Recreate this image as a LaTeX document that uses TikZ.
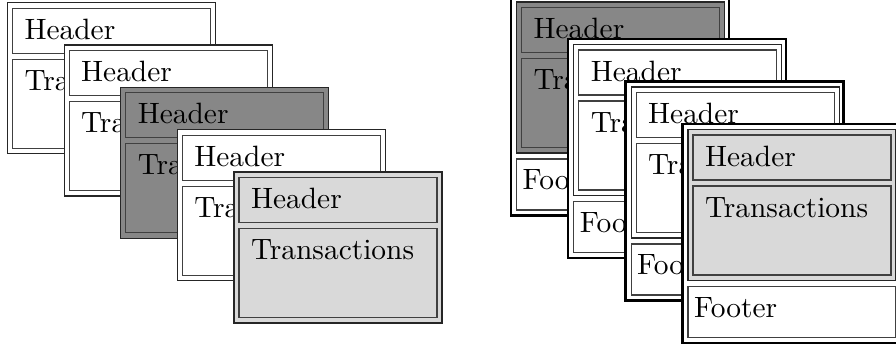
\documentclass[tikz,border=0pt]{standalone}
\usepackage{tikz}

\definecolor{darkfill}{gray}{0.53}
\definecolor{lightfill}{gray}{0.85}

\tikzset{
  bodyline/.style={draw=black!85, line width=0.4pt},
  partline/.style={draw=black!75, line width=0.4pt},
  frameline/.style={draw=black, line width=0.8pt},
  labeltext/.style={anchor=base west, inner sep=0pt, font=\fontsize{10.5}{12.6}\selectfont},
}

% a record body: outer box with a header part and a transactions part
\newcommand{\ledgerbody}[2]{%
  \draw[bodyline, fill=#2] (0,0) rectangle (208,151);
  \draw[partline, fill=#2] (5,5.5) rectangle (203,50.5);
  \draw[partline, fill=#2] (5,56.5) rectangle (203,145.5);
  \node[labeltext] (#1-h) at (16.5,36.5) {Header};
  \node[labeltext] (#1-t) at (16.5,87.5) {Transactions};
}

% a framed record: heavy outer border around a body and a footer
\newcommand{\ledgerframe}[2]{%
  \draw[frameline, fill=white] (0,0) rectangle (218,219);
  \begin{scope}[shift={(5.5,5.5)}]
    \ledgerbody{#1}{#2}
  \end{scope}
  \draw[partline, fill=white] (5.5,162.5) rectangle (213.5,213.5);
  \node[labeltext] (#1-f) at (11,193) {Footer};
}

\begin{document}
\begin{tikzpicture}[x=0.357pt, y=-0.357pt]
  \useasboundingbox (0,0) rectangle (896,349);

  % stack of plain records
  \begin{scope}[shift={(7.5,2.7)}]   \ledgerbody{a1}{white}     \end{scope}
  \begin{scope}[shift={(64.1,45)}]   \ledgerbody{a2}{white}     \end{scope}
  \begin{scope}[shift={(120.7,87.3)}]\ledgerbody{a3}{darkfill}  \end{scope}
  \begin{scope}[shift={(177.3,129.6)}]\ledgerbody{a4}{white}    \end{scope}
  \begin{scope}[shift={(234,172)}]   \ledgerbody{a5}{lightfill} \end{scope}

  % stack of framed records with footers
  \begin{scope}[shift={(511,-3.5)}]  \ledgerframe{b1}{darkfill}  \end{scope}
  \begin{scope}[shift={(568.3,39)}]  \ledgerframe{b2}{white}     \end{scope}
  \begin{scope}[shift={(625.6,81.5)}]\ledgerframe{b3}{white}     \end{scope}
  \begin{scope}[shift={(682.5,124)}] \ledgerframe{b4}{lightfill} \end{scope}
\end{tikzpicture}
\end{document}
